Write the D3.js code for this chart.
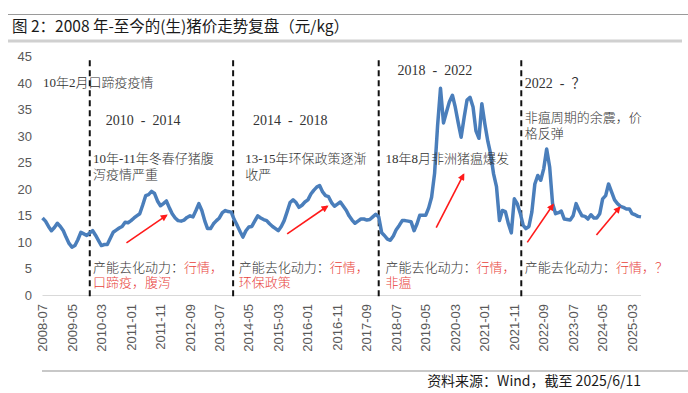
<!DOCTYPE html>
<html>
<head>
<meta charset="utf-8">
<script src="https://cdn.jsdelivr.net/npm/d3@7"></script>
<style>
  body { margin: 0; background: #fff; }
  text { white-space: pre; }
</style>
</head>
<body>
<div id="chart"></div>
<script>
// monthly live hog price (元/kg), 2008-07 .. 2025-06
const startMonth = "2008-07";
const prices = [
  14.6, 14.0, 13.0, 12.2, 12.8, 13.6,                                  // 2008 H2
  13.0, 12.2, 11.0, 9.8, 9.1, 9.4, 10.5, 11.9, 11.6, 11.3, 11.8, 12.2, // 2009
  11.3, 10.3, 9.4, 9.6, 9.6, 10.8, 11.9, 12.3, 12.7, 13.0, 13.8, 13.7, // 2010
  14.1, 14.6, 15.0, 15.4, 17.0, 18.8, 19.0, 19.6, 19.2, 17.8, 16.9, 17.3, // 2011
  17.8, 16.5, 15.4, 14.6, 14.1, 14.0, 14.2, 14.7, 15.0, 14.8, 16.0, 17.3, // 2012
  16.0, 14.0, 12.6, 12.6, 13.5, 14.1, 14.6, 15.6, 16.0, 15.8, 15.7, 14.3, // 2013
  13.2, 12.0, 11.0, 12.2, 12.9, 13.0, 14.0, 15.0, 14.6, 14.3, 14.1, 13.5, // 2014
  13.0, 12.6, 12.2, 13.0, 14.1, 15.8, 17.5, 18.0, 17.5, 16.6, 17.0, 17.6, // 2015
  18.0, 19.1, 19.8, 20.4, 20.7, 19.5, 18.8, 18.6, 17.5, 16.8, 17.2, 17.6, // 2016
  16.8, 16.0, 15.0, 14.2, 13.6, 14.0, 14.4, 14.4, 14.2, 14.3, 14.8, 15.3, // 2017
  14.8, 11.8, 11.3, 10.6, 10.4, 11.2, 12.4, 13.2, 14.1, 14.1, 14.0, 13.9, // 2018
  12.2, 13.5, 15.1, 15.1, 15.1, 16.5, 18.5, 23.0, 32.0, 39.0, 32.5, 34.5, // 2019
  36.5, 37.7, 35.5, 32.5, 29.8, 33.5, 36.8, 37.3, 35.5, 31.0, 29.6, 36.1, // 2020
  32.3, 29.0, 26.7, 22.9, 20.5, 14.1, 16.0, 15.8, 13.5, 11.8, 18.2, 17.3, // 2021
  15.5, 13.2, 12.6, 13.0, 15.7, 21.0, 22.6, 21.7, 23.9, 27.6, 24.2, 17.3, // 2022
  15.4, 15.6, 15.9, 14.4, 14.3, 14.2, 15.0, 17.3, 16.0, 15.0, 14.9, 14.4, // 2023
  15.2, 14.6, 14.6, 15.4, 18.2, 18.8, 21.0, 19.5, 18.0, 17.3, 16.8, 16.6, // 2024
  16.3, 16.3, 15.4, 15.2, 14.9, 14.8                                   // 2025 H1
];
const tickLabels = ["2008-07", "2009-05", "2010-03", "2011-01", "2011-11", "2012-09",
  "2013-07", "2014-05", "2015-03", "2016-01", "2016-11", "2017-09", "2018-07",
  "2019-05", "2020-03", "2021-01", "2021-11", "2022-09", "2023-07", "2024-05", "2025-03"];
const yTicks = [0, 5, 10, 15, 20, 25, 30, 35, 40, 45];

// cycle boundaries (dashed lines)
const phaseBreaks = ["2009-11-01", "2013-11-20", "2018-01-01", "2022-01-12"];
const periodLabels = [
  {date: "2010-04-15", value: 33.1, text: "2010  -  2014"},
  {date: "2014-06-12", value: 33.1, text: "2014  -  2018"},
  {date: "2018-07-15", value: 42.4, text: "2018  -  2022"},
  {date: "2022-02-18", value: 39.9, text: "2022  -  ？"}
];
const eventNotes = [
  {date: "2008-07-05", value: 40.1, lines: ["10年2月口蹄疫疫情"]},
  {date: "2009-12-04", value: 25.8, lines: ["10年-11年冬春仔猪腹", "泻疫情严重"]},
  {date: "2014-03-25", value: 25.8, lines: ["13-15年环保政策逐渐", "收严"]},
  {date: "2018-03-12", value: 25.8, lines: ["18年8月非洲猪瘟爆发"]},
  {date: "2022-02-18", value: 33.5, lines: ["非瘟周期的余震，价", "格反弹"]}
];
const driverNotes = [
  {date: "2009-12-04", red1: "行情，", red2: "口蹄疫，腹泻"},
  {date: "2014-01-18", red1: "行情，", red2: "环保政策"},
  {date: "2018-03-12", red1: "行情，", red2: "非瘟"},
  {date: "2022-02-18", red1: "行情，？", red2: ""}
];
const driverValue = 5.3;
const arrows = [
  [["2010-11-15", 9.9], ["2012-01-03", 15.1]],
  [["2015-06-01", 11.6], ["2016-07-20", 16.8]],
  [["2019-08-18", 12.8], ["2020-05-27", 22.8]],
  [["2022-03-15", 10.0], ["2022-12-06", 17.1]],
  [["2024-02-27", 11.4], ["2024-10-24", 16.6]]
];

const width = 688, height = 393;
const parseMonth = d3.timeParse("%Y-%m");
const parseDay = d3.timeParse("%Y-%m-%d");
const first = parseMonth(startMonth);
const dates = prices.map((_, i) => d3.timeMonth.offset(first, i));
const series = prices.map((v, i) => ({date: dates[i], value: v}));

const x = d3.scaleTime()
  .domain([first, dates[dates.length - 1]])
  .range([42.5, 641]);
const y = d3.scaleLinear().domain([0, 45]).range([295.5, 56.5]);

const svg = d3.select("#chart").append("svg")
  .attr("width", width)
  .attr("height", height)
  .style("font-family", "'Liberation Sans', Arial, sans-serif");

const cjk = "'Noto Sans CJK SC', sans-serif";
const serif = "'Liberation Serif', 'Noto Sans CJK SC', serif";

// frame lines
svg.append("line").attr("x1", 8).attr("x2", 688).attr("y1", 14.5).attr("y2", 14.5)
  .attr("stroke", "#9a9a9a").attr("stroke-width", 1);
svg.append("line").attr("x1", 8).attr("x2", 682).attr("y1", 41).attr("y2", 41)
  .attr("stroke", "#d0d0d0").attr("stroke-width", 3);
svg.append("line").attr("x1", 42).attr("x2", 688).attr("y1", 371).attr("y2", 371)
  .attr("stroke", "#c8c8c8").attr("stroke-width", 2);

// title
svg.append("text")
  .attr("x", 12).attr("y", 32)
  .style("font-family", cjk)
  .style("font-size", "15.5px")
  .attr("fill", "#1a1a1a")
  .text("图 2：2008 年-至今的(生)猪价走势复盘（元/kg）");

// y axis labels
svg.append("g")
  .selectAll("text")
  .data(yTicks)
  .join("text")
  .attr("x", 32)
  .attr("y", d => y(d))
  .attr("dy", "0.35em")
  .attr("text-anchor", "end")
  .attr("fill", "#595959")
  .style("font-size", "13px")
  .text(d => d);

// x axis
svg.append("line")
  .attr("x1", x.range()[0]).attr("x2", x.range()[1])
  .attr("y1", y(0)).attr("y2", y(0))
  .attr("stroke", "#d9d9d9").attr("stroke-width", 1);

svg.append("g")
  .selectAll("text")
  .data(tickLabels)
  .join("text")
  .attr("transform", d => `translate(${x(parseMonth(d))},304) rotate(-90)`)
  .attr("dy", "0.35em")
  .attr("text-anchor", "end")
  .attr("fill", "#595959")
  .style("font-size", "13px")
  .text(d => d);

// dashed cycle dividers
svg.append("g")
  .selectAll("line")
  .data(phaseBreaks)
  .join("line")
  .attr("x1", d => x(parseDay(d))).attr("x2", d => x(parseDay(d)))
  .attr("y1", y(44.3)).attr("y2", y(-0.5))
  .attr("stroke", "#111")
  .attr("stroke-width", 2)
  .attr("stroke-dasharray", "6,4");

// price line
const line = d3.line().x(d => x(d.date)).y(d => y(d.value));
svg.append("path")
  .datum(series)
  .attr("fill", "none")
  .attr("stroke", "#4a7ebb")
  .attr("stroke-width", 3.5)
  .attr("stroke-linejoin", "round")
  .attr("d", line);

// period labels
svg.append("g")
  .selectAll("text")
  .data(periodLabels)
  .join("text")
  .attr("x", d => x(parseDay(d.date)))
  .attr("y", d => y(d.value))
  .attr("dy", "0.35em")
  .attr("fill", "#333")
  .style("font-family", serif)
  .style("font-size", "14px")
  .text(d => d.text);

// event notes
svg.append("g")
  .selectAll("text")
  .data(eventNotes)
  .join("text")
  .attr("x", d => x(parseDay(d.date)))
  .attr("y", d => y(d.value))
  .attr("fill", "#333")
  .style("font-family", serif)
  .style("font-size", "13px")
  .style("font-weight", 300)
  .each(function(d) {
    const t = d3.select(this);
    d.lines.forEach((l, i) => {
      t.append("tspan")
        .attr("x", x(parseDay(d.date)))
        .attr("dy", i === 0 ? "0.35em" : "16px")
        .text(l);
    });
  });

// capacity-reduction drivers
svg.append("g")
  .selectAll("text")
  .data(driverNotes)
  .join("text")
  .attr("x", d => x(parseDay(d.date)))
  .attr("y", y(driverValue))
  .attr("dy", "0.35em")
  .style("font-family", serif)
  .style("font-size", "13px")
  .style("font-weight", 300)
  .call(text => text.append("tspan")
    .attr("fill", "#333")
    .text("产能去化动力："))
  .call(text => text.append("tspan")
    .attr("fill", "#e8413a")
    .text(d => d.red1))
  .call(text => text.append("tspan")
    .attr("x", d => x(parseDay(d.date)))
    .attr("dy", "15px")
    .attr("fill", "#e8413a")
    .text(d => d.red2));

// red arrows
svg.append("defs").append("marker")
  .attr("id", "arrowhead")
  .attr("viewBox", "0 0 10 10")
  .attr("refX", 8).attr("refY", 5)
  .attr("markerWidth", 9).attr("markerHeight", 7)
  .attr("markerUnits", "userSpaceOnUse")
  .attr("orient", "auto")
  .append("path")
  .attr("d", "M0,0 L10,5 L0,10 Z")
  .attr("fill", "#ff1a1a");

svg.append("g")
  .selectAll("line")
  .data(arrows)
  .join("line")
  .attr("x1", d => x(parseDay(d[0][0]))).attr("y1", d => y(d[0][1]))
  .attr("x2", d => x(parseDay(d[1][0]))).attr("y2", d => y(d[1][1]))
  .attr("stroke", "#ff1a1a")
  .attr("stroke-width", 1.6)
  .attr("marker-end", "url(#arrowhead)");

// source
svg.append("text")
  .attr("x", 641).attr("y", 386)
  .attr("text-anchor", "end")
  .attr("fill", "#1a1a1a")
  .style("font-family", cjk)
  .style("font-size", "14px")
  .text("资料来源：Wind，截至 2025/6/11");
</script>
</body>
</html>
